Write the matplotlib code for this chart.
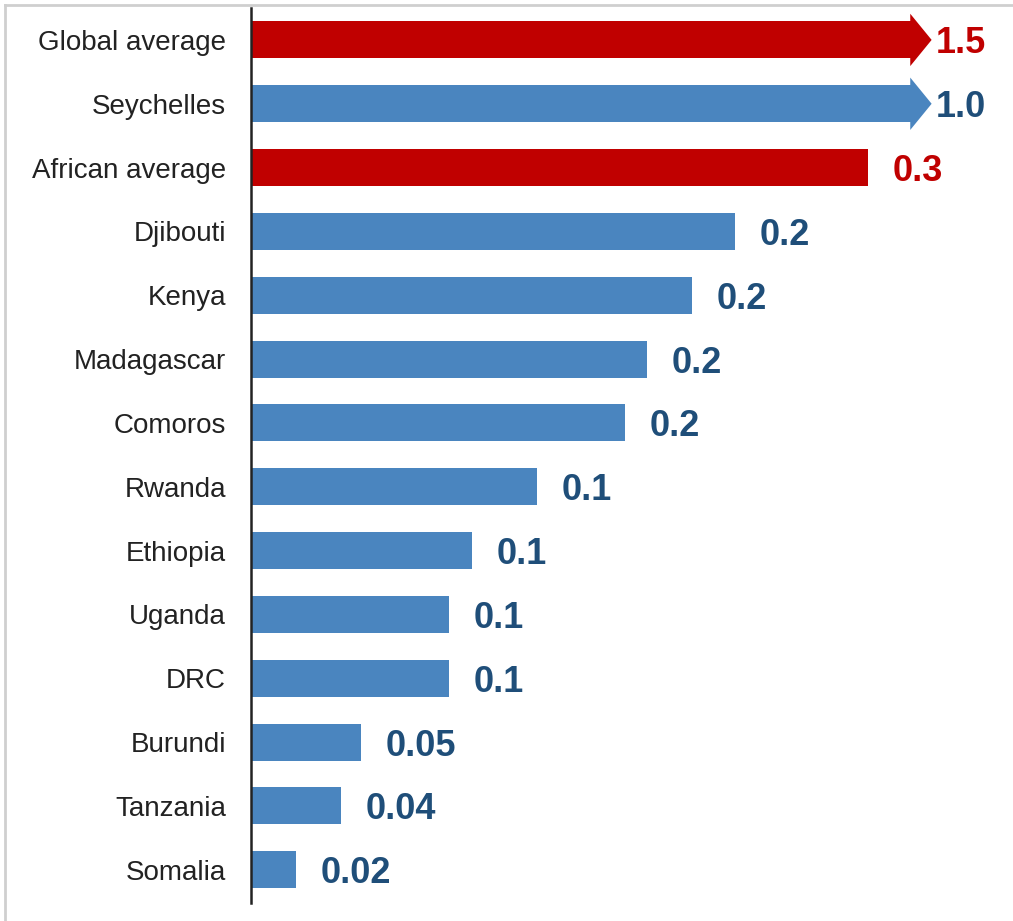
import matplotlib.pyplot as plt
from matplotlib.patches import Polygon
from matplotlib.lines import Line2D

plt.rcParams['font.family'] = ['Liberation Sans', 'DejaVu Sans']

# Daten
laender = ["Global average", "Seychelles", "African average", "Djibouti", "Kenya",
           "Madagascar", "Comoros", "Rwanda", "Ethiopia", "Uganda", "DRC",
           "Burundi", "Tanzania", "Somalia"]
werte = [1.5, 1.0, 0.274, 0.215, 0.196, 0.176, 0.166, 0.127, 0.098, 0.088,
         0.088, 0.049, 0.04, 0.02]
beschriftung = ["1.5", "1.0", "0.3", "0.2", "0.2", "0.2", "0.2", "0.1", "0.1",
                "0.1", "0.1", "0.05", "0.04", "0.02"]
ist_mittel = [True, False, True, False, False, False, False, False, False,
              False, False, False, False, False]

# Achse abgeschnitten: lange Balken werden als Pfeil gezeichnet
kappung = 0.294
kopf_laenge = 0.0085

blau = "#4A85BF"
rot = "#C00000"
text_blau = "#1F4E79"

fig = plt.figure(figsize=(10.13, 9.21), dpi=100)
ax = fig.add_axes([251 / 1013, 18 / 921, 754 / 1013, 895 / 921])

y = list(range(len(laender)))
breiten = [min(w, kappung) for w in werte]
farben = [rot if m else blau for m in ist_mittel]
hoehe = 0.58

ax.barh(y, breiten, height=hoehe, color=farben)

for i, w in enumerate(werte):
    farbe_text = rot if ist_mittel[i] else text_blau
    if w > kappung:
        # Pfeilspitze
        kopf = Polygon([(kappung - 0.001, i - 0.41), (kappung + kopf_laenge, i),
                        (kappung - 0.001, i + 0.41)], closed=True,
                       color=farben[i], lw=0)
        ax.add_patch(kopf)
        x_text = kappung + kopf_laenge + 0.002
    else:
        x_text = w + 0.011
    ax.text(x_text, i, beschriftung[i], ha="left", va="center_baseline",
            fontsize=26, fontweight="bold", color=farbe_text)

ax.set_xlim(0, 754 / 2250)
ax.set_ylim(13.52, -0.5)
ax.set_yticks(y)
ax.set_yticklabels(laender, fontsize=20, color="#222222")
ax.tick_params(axis="y", length=0, pad=18)
ax.set_xticks([])
for s in ["top", "right", "bottom"]:
    ax.spines[s].set_visible(False)
ax.spines["left"].set_linewidth(1.8)
ax.spines["left"].set_color("#222222")

# Rahmen oben und links
fig.add_artist(Line2D([5 / 1013, 5 / 1013], [0, 1 - 5 / 921], transform=fig.transFigure,
                      color="#cfcfcf", lw=2))
fig.add_artist(Line2D([5 / 1013, 1], [1 - 5 / 921, 1 - 5 / 921], transform=fig.transFigure,
                      color="#cfcfcf", lw=2))

plt.savefig("out.png", dpi=100)
